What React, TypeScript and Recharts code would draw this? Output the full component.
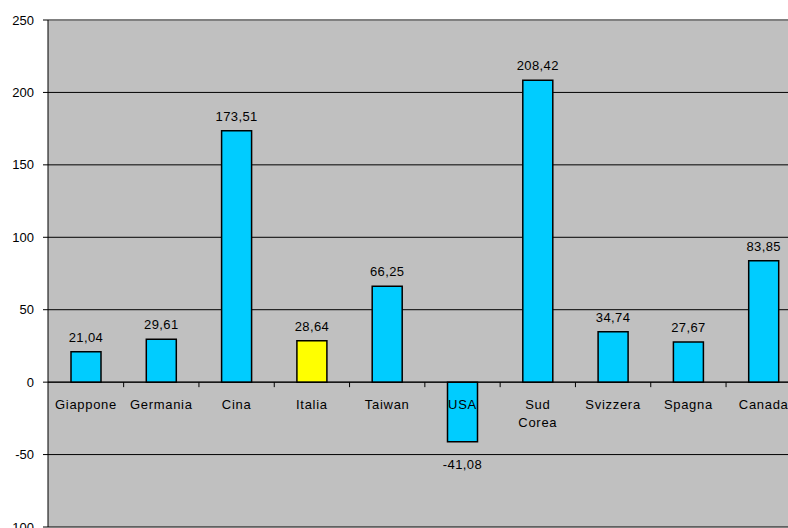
import React from "react";
import {
    BarChart,
    Bar,
    XAxis,
    YAxis,
    CartesianGrid,
    ReferenceLine,
    LabelList,
    Cell
} from "recharts";

const countries = ["Giappone", "Germania", "Cina", "Italia", "Taiwan", "USA", "Sud Corea", "Svizzera", "Spagna", "Canada"];
const values = [21.04, 29.61, 173.51, 28.64, 66.25, -41.08, 208.42, 34.74, 27.67, 83.85];
const yTicks = [-100, -50, 0, 50, 100, 150, 200, 250];
const highlight = "Italia";

const data = countries.map((name, i) => ({ name, value: values[i] }));

const FONT = "Arial, 'Liberation Sans', sans-serif";
const AXIS_W = 48;
const PLOT_W = 753;
const BAND = PLOT_W / countries.length;

const fmt = (v: number) => v.toFixed(2).replace(".", ",");

function BarLabels(props: any) {
    const vb = props.viewBox ?? props;
    const { x, y, width, height } = vb;
    const index = props.index;
    const value = values[index];
    const top = Math.min(y, y + height);
    const bottom = Math.max(y, y + height);
    const base = value >= 0 ? bottom : top;
    const cx = x + width / 2;
    const lines = countries[index].split(" ");
    return (
        <g>
            <text
                x={cx}
                y={value >= 0 ? top - 10 : bottom + 27}
                textAnchor="middle"
                fontSize={13}
                fontFamily={FONT}
                letterSpacing={0.4}
                fill="#000"
            >
                {fmt(value)}
            </text>
            {lines.map((l, k) => (
                <text
                    key={k}
                    x={cx}
                    y={base + 27 + k * 18}
                    textAnchor="middle"
                    fontSize={13}
                    fontFamily={FONT}
                    letterSpacing={0.7}
                    fill="#000"
                >
                    {l}
                </text>
            ))}
            <line x1={cx + BAND / 2} x2={cx + BAND / 2} y1={base} y2={base + 5} stroke="#000" />
        </g>
    );
}

export default function App() {
    return (
        <div style={{ position: "absolute", left: 0, top: 0, width: 788, height: 528, overflow: "hidden", background: "#fff" }}>
            <BarChart
                width={AXIS_W + PLOT_W}
                height={540}
                data={data}
                margin={{ top: 20, right: 0, left: 0, bottom: 13 }}
                barCategoryGap={0}
            >
                <CartesianGrid fill="#C0C0C0" stroke="#000" vertical={false} />
                <XAxis dataKey="name" hide />
                <YAxis
                    width={AXIS_W}
                    domain={[-100, 250]}
                    ticks={yTicks}
                    allowDataOverflow
                    axisLine={{ stroke: "#000" }}
                    tickLine={{ stroke: "#000" }}
                    tickSize={5}
                    tickMargin={9}
                    tick={{ fontSize: 13, fontFamily: FONT, fill: "#000" }}
                />
                <ReferenceLine y={250} stroke="#808080" strokeWidth={2} />
                <ReferenceLine y={0} stroke="#000" />
                <Bar dataKey="value" barSize={30} stroke="#000" strokeWidth={1.5} isAnimationActive={false}>
                    {data.map((d) => (
                        <Cell key={d.name} fill={d.name === highlight ? "#FFFF00" : "#00CCFF"} />
                    ))}
                    <LabelList dataKey="value" content={BarLabels} />
                </Bar>
            </BarChart>
        </div>
    );
}
